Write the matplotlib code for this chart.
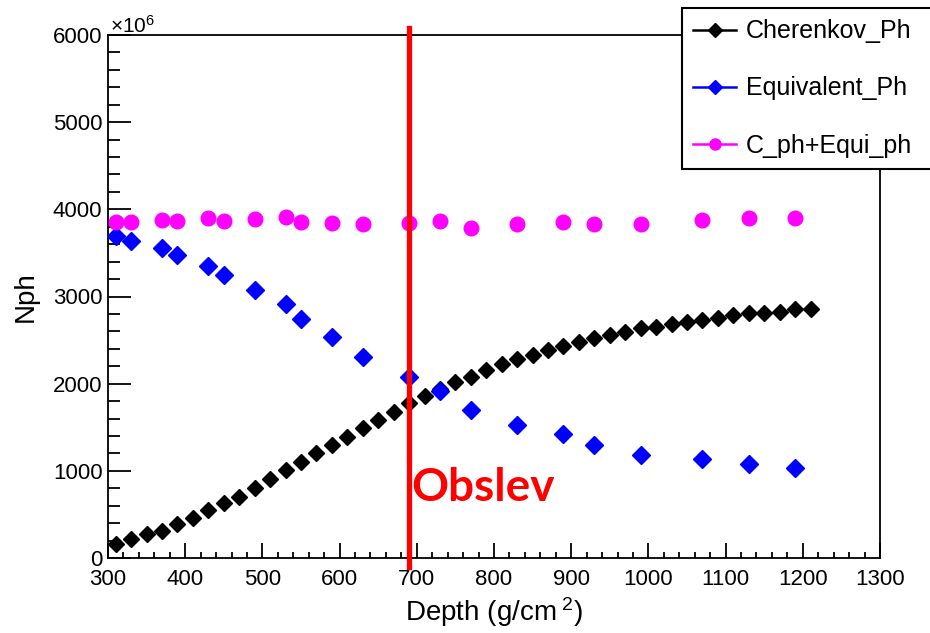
import matplotlib
matplotlib.use("Agg")
import matplotlib.pyplot as plt
import matplotlib.transforms as mtransforms
from matplotlib.ticker import MultipleLocator
from matplotlib.lines import Line2D

plt.rcParams['font.family'] = ['Liberation Sans', 'DejaVu Sans']
plt.rcParams['mathtext.fontset'] = 'custom'
plt.rcParams['mathtext.rm'] = 'Liberation Sans'
plt.rcParams['mathtext.it'] = 'Liberation Sans:italic'
plt.rcParams['mathtext.bf'] = 'Liberation Sans:bold'

# Cherenkov photons (x 10^6) vs depth
cher_depth = [310, 330, 350, 370, 390, 410, 430, 450, 470, 490, 510, 530, 550, 570,
              590, 610, 630, 650, 670, 690, 710, 730, 750, 770, 790, 810, 830, 850,
              870, 890, 910, 930, 950, 970, 990, 1010, 1030, 1050, 1070, 1090, 1110,
              1130, 1150, 1170, 1190, 1210]
cher_nph = [160, 215, 275, 310, 395, 460, 550, 630, 705, 805, 905, 1010, 1100, 1205,
            1296, 1392, 1488, 1583, 1679, 1775, 1858, 1940, 2023, 2080, 2157, 2226, 2279, 2329,
            2386, 2436, 2481, 2527, 2558, 2596, 2642, 2653, 2684, 2711, 2730, 2750, 2788,
            2807, 2814, 2826, 2853, 2857]

# Equivalent photons and sum
eq_depth = [310, 330, 370, 390, 430, 450, 490, 530, 550, 590, 630, 690, 730, 770,
            830, 890, 930, 990, 1070, 1130, 1190]
eq_nph = [3690, 3640, 3560, 3480, 3355, 3250, 3075, 2915, 2745, 2539, 2309, 2080, 1919, 1698,
          1526, 1419, 1296, 1182, 1132, 1078, 1036]
sum_nph = [3855, 3855, 3880, 3870, 3900, 3870, 3885, 3915, 3860, 3840, 3828, 3847, 3866, 3782,
           3832, 3858, 3832, 3832, 3878, 3897, 3897]

obslev = 690
obslev_label_y = 800
series_labels = ["Cherenkov_Ph", "Equivalent_Ph", "C_ph+Equi_ph"]

fig = plt.figure(figsize=(9.3, 6.33), dpi=100)
ax = fig.add_axes([108/930, 1-558/633, (880-108)/930, (558-35)/633])

ax.plot(cher_depth, cher_nph, linestyle='none', marker='D', markersize=8.5,
        color='black', zorder=3)
ax.plot(eq_depth, eq_nph, linestyle='none', marker='D', markersize=9,
        color='#0000ff', zorder=3)
ax.plot(eq_depth, sum_nph, linestyle='none', marker='o', markersize=10.5,
        color='#ff00ff', zorder=3)

ax.plot([obslev, obslev], [-0.017, 1.013], color='#ff0000', lw=3.8,
        transform=ax.get_xaxis_transform(), clip_on=False, zorder=4)
ax.text(obslev + 3, obslev_label_y, 'Obslev', color='#ff0000', fontsize=33,
        fontweight='bold', family=['Lato', 'DejaVu Sans'], va='center', ha='left', zorder=5)

ax.set_xlim(300, 1300)
ax.set_ylim(0, 6000)
ax.xaxis.set_major_locator(MultipleLocator(100))
ax.xaxis.set_minor_locator(MultipleLocator(20))
ax.yaxis.set_major_locator(MultipleLocator(1000))
ax.yaxis.set_minor_locator(MultipleLocator(200))
ax.tick_params(axis='both', which='both', direction='in', top=False, right=False,
               width=1.3, labelsize=16, colors='black')
ax.tick_params(axis='y', which='major', length=16.5, pad=4)
ax.tick_params(axis='y', which='minor', length=8.5)
ax.tick_params(axis='x', which='major', length=10.8, pad=8)
ax.tick_params(axis='x', which='minor', length=4.5)
for s in ax.spines.values():
    s.set_linewidth(1.3)

ax.set_xlabel('Depth (g/cm$^{\\ 2}$)', fontsize=20, labelpad=4)
ax.set_ylabel('Nph', fontsize=20, labelpad=10)
fig.text(110/930, 1-33/633, '$\\times$10$^{6}$', fontsize=15, ha='left', va='baseline')

# nudge the "0" y tick label upward a little (as in the reference)
fig.canvas.draw()
zero_lbl = ax.get_yticklabels()[0]
zero_lbl.set_transform(zero_lbl.get_transform() +
                       mtransforms.ScaledTranslation(0, 4/100, fig.dpi_scale_trans))

handles = [
    Line2D([], [], color='black', lw=1.8, marker='D', markersize=7),
    Line2D([], [], color='#0000ff', lw=1.8, marker='D', markersize=7),
    Line2D([], [], color='#ff00ff', lw=1.8, marker='o', markersize=8),
]
leg = fig.legend(handles, series_labels, loc='upper left',
                 bbox_to_anchor=(682/930, 1-170/633, (935-682)/930, 162/633),
                 mode='expand', fontsize=18, frameon=True, fancybox=False,
                 edgecolor='black', framealpha=1, handlelength=1.7,
                 handletextpad=0.4, labelspacing=1.33, borderpad=0.45,
                 borderaxespad=0)
leg.get_frame().set_linewidth(1.5)

fig.savefig('out.png', dpi=100)
